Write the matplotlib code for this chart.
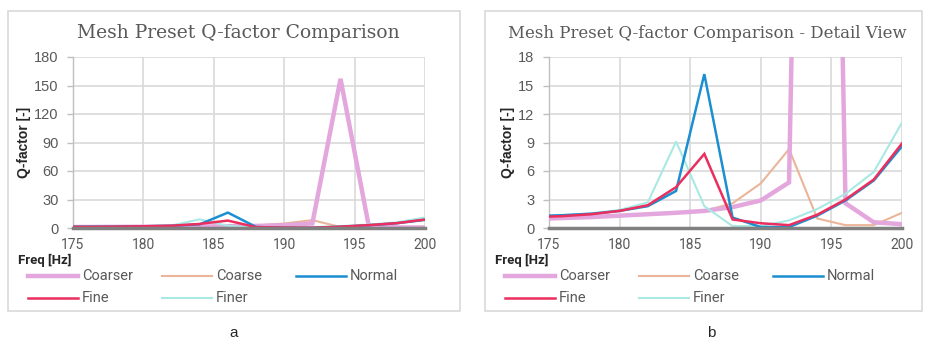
import matplotlib
matplotlib.use("Agg")
import matplotlib.pyplot as plt
from matplotlib.patches import Rectangle
from matplotlib.lines import Line2D

freq = [175, 176, 178, 180, 182, 184, 186, 188, 190, 192, 194, 196, 198, 200]
coarser = [1.0, 1.05, 1.15, 1.3, 1.45, 1.6, 1.8, 2.2, 2.9, 4.8, 157.0, 2.6, 0.6, 0.4]
coarse = [1.0, 1.05, 1.15, 1.3, 1.45, 1.6, 1.8, 2.6, 4.7, 8.3, 1.0, 0.3, 0.3, 1.6]
normal = [1.3, 1.35, 1.5, 1.8, 2.3, 3.9, 16.2, 1.1, 0.1, 0.1, 1.3, 2.9, 5.0, 8.6]
fine = [1.2, 1.25, 1.45, 1.8, 2.4, 4.3, 7.8, 0.9, 0.5, 0.3, 1.4, 3.0, 5.1, 8.9]
finer = [1.3, 1.35, 1.55, 1.9, 2.7, 9.1, 2.3, 0.2, 0.2, 0.8, 2.0, 3.6, 5.9, 11.1]

names = ["Coarser", "Coarse", "Normal", "Fine", "Finer"]
series = [coarser, coarse, normal, fine, finer]
colors = ["#e3a6dd", "#eab598", "#1b8fcf", "#ea2f5f", "#a9e9e4"]
widths = [3.2, 1.5, 1.8, 1.8, 1.5]
zorders = [3, 2, 4, 5, 3]

xticks = [175, 180, 185, 190, 195, 200]
titles = ["Mesh Preset Q-factor Comparison",
          "Mesh Preset Q-factor Comparison - Detail View"]
title_sizes = [13.5, 11.9]
yticks_list = [[0, 30, 60, 90, 120, 150, 180], [0, 3, 6, 9, 12, 15, 18]]
ylims = [180, 18]
panel_labels = ["a", "b"]

W, H = 925, 342
fig = plt.figure(figsize=(W / 100, H / 100), dpi=100)

txt = "#595959"
narrow = ["Liberation Sans Narrow", "Roboto", "DejaVu Sans"]

boxes = [(8, 460), (485, 922)]
plots = [(73, 425), (549, 902)]
box_top, box_bot = 11, 311
plot_top, plot_bot = 57, 228

def fx(px):
    return px / W

def fy(py):
    return 1 - py / H

for i in range(2):
    bx0, bx1 = boxes[i]
    fig.patches.append(Rectangle((fx(bx0), fy(box_bot)), fx(bx1 - bx0), (box_bot - box_top) / H,
                                 transform=fig.transFigure, fill=False,
                                 edgecolor="#d9d9d9", linewidth=1.2))
    px0, px1 = plots[i]
    ax = fig.add_axes([fx(px0), fy(plot_bot), fx(px1 - px0), (plot_bot - plot_top) / H])
    for s, name, c, w, z in zip(series, names, colors, widths, zorders):
        ax.plot(freq, s, color=c, linewidth=w, zorder=z, label=name,
                solid_joinstyle="miter")
    ax.set_xlim(175, 200)
    ax.set_ylim(0, ylims[i])
    ax.set_xticks(xticks)
    ax.set_yticks(yticks_list[i])
    ax.grid(True, color="#d9d9d9", linewidth=1.2, zorder=0)
    ax.set_axisbelow(True)
    for sp in ["top", "right"]:
        ax.spines[sp].set_visible(False)
    ax.spines["left"].set_color("#bfbfbf")
    ax.spines["left"].set_linewidth(1.0)
    ax.spines["bottom"].set_color("#808080")
    ax.spines["bottom"].set_linewidth(2.5)
    ax.spines["bottom"].set_zorder(6)
    ax.tick_params(axis="y", colors="#bfbfbf", labelcolor=txt, labelsize=10.5,
                   length=4, width=1, pad=6.5)
    ax.tick_params(axis="x", length=0, pad=7, labelcolor=txt, labelsize=10)
    for lab in ax.get_yticklabels():
        lab.set_fontfamily(["Liberation Sans", "DejaVu Sans"])
    for lab in ax.get_xticklabels():
        lab.set_fontfamily(narrow)
    ax.set_ylabel("Q-factor [-]", fontsize=10, fontweight="bold", color="#262626",
                  family=["Liberation Sans", "DejaVu Sans"], labelpad=2)

    fig.text(fx((bx0 + bx1) / 2 + 4), fy(33), titles[i], ha="center", va="center",
             fontsize=title_sizes[i], color=txt, family=["DejaVu Serif"])
    fig.text(fx(bx0 + 10), fy(260), "Freq [Hz]", ha="left", va="center",
             fontsize=9.5, fontweight="bold", color="#262626", family=narrow)

    leg_pos = [(28, 276), (162, 276), (296, 276), (28, 298), (162, 298)]
    for (lx, ly), name, c, w in zip(leg_pos, names, colors, widths):
        x0 = bx0 + lx - 8
        fig.add_artist(Line2D([fx(x0), fx(x0 + 50)], [fy(ly), fy(ly)],
                              transform=fig.transFigure, color=c, linewidth=w))
        fig.text(fx(x0 + 54), fy(ly), name, ha="left", va="center",
                 fontsize=10.5, color=txt, family=narrow)

    fig.text(fx(234 if i == 0 else 711), fy(333), panel_labels[i], ha="center",
             va="center", fontsize=11, color="#262626",
             family=["Liberation Sans", "DejaVu Sans"])

fig.savefig("out.png", dpi=100, facecolor="white")
